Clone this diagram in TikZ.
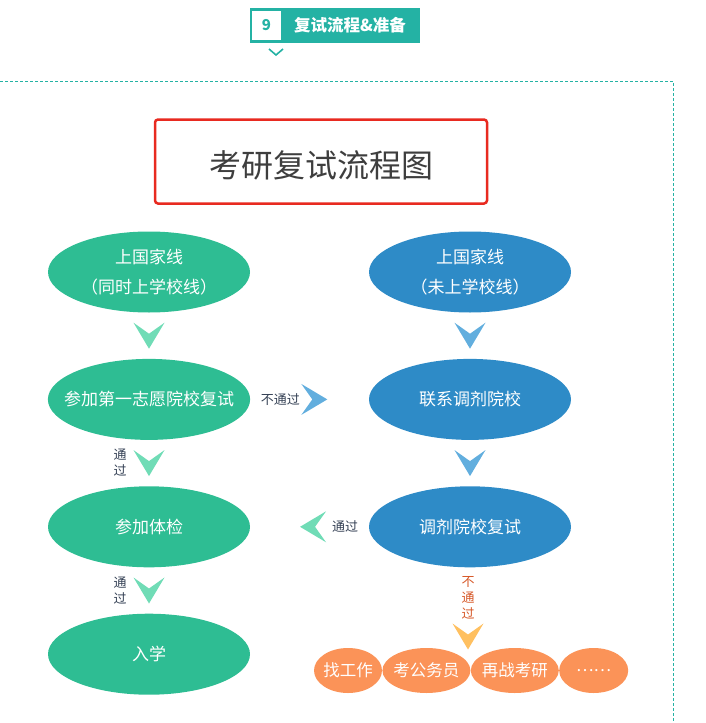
\documentclass[tikz,border=0pt]{standalone}
\usepackage{fontspec}
\setmainfont{Noto Sans CJK SC}
\usetikzlibrary{positioning,calc,shapes.geometric}
\definecolor{HeadTeal}{RGB}{36,178,164}
\definecolor{BorderRed}{RGB}{232,42,32}
\definecolor{TitleGray}{RGB}{62,62,62}
\definecolor{PassGreen}{RGB}{46,189,147}
\definecolor{ChevGreen}{RGB}{112,220,182}
\definecolor{TransferBlue}{RGB}{46,139,199}
\definecolor{ChevBlue}{RGB}{98,174,222}
\definecolor{FailOrange}{RGB}{251,147,88}
\definecolor{ChevYellow}{RGB}{255,192,96}
\definecolor{NoteRed}{RGB}{214,88,40}
\definecolor{NoteGray}{RGB}{52,64,84}
\tikzset{
  greenoval/.style={ellipse,fill=PassGreen,text=white,minimum width=202pt,
    minimum height=81pt,inner sep=0pt,align=center,font=\fontsize{17}{30}\selectfont},
  blueoval/.style={greenoval,fill=TransferBlue},
  orangeoval/.style={ellipse,fill=FailOrange,text=white,minimum height=45pt,
    inner sep=0pt,inner xsep=-4pt,font=\fontsize{16.5}{20}\selectfont},
  note/.style={text=NoteGray,font=\fontsize{13}{16}\selectfont,align=center,inner sep=0pt},
  chevron/.pic={\fill (-15.5,-13) -- (0,-2) -- (15.5,-13) -- (0,13) -- cycle;}
}

\begin{document}
\begin{tikzpicture}[x=1pt,y=-1pt]
  \useasboundingbox (0,0) rectangle (705,723);
  % header tag
  \node[fill=HeadTeal,minimum width=170pt,minimum height=35pt,inner sep=0pt] (tag) at (335,25.5) {};
  \node[fill=white,minimum size=29pt,inner sep=0pt,text=HeadTeal,font=\fontsize{15}{15}\selectfont\bfseries] (tagnum) at (266.5,25.5) {9};
  \node[text=white,font=\fontsize{16.5}{16}\selectfont\bfseries] (tagtext) at (350,25) {复试流程\&准备};
  \draw[HeadTeal,line width=1.6pt] (269,49) -- (276,55) -- (283,49);
  \draw[HeadTeal,line width=1pt,dash pattern=on 3pt off 2pt] (0,81) -- (673,81) -- (673,723);
  % title
  \node[draw=BorderRed,line width=2.5pt,rounded corners=3pt,minimum width=332pt,minimum height=84pt] (title) at (321,161.5) {};
  \node[text=TitleGray,font=\fontsize{32}{32}\selectfont] (titletext) at ($(title.center)+(0,4)$) {考研复试流程图};
  % left column
  \node[greenoval] (g1) at (149,272) {上国家线\\（同时上学校线）};
  \node[greenoval,below=46pt of g1,inner xsep=-13.5pt,font=\fontsize{17}{20}\selectfont] (g2) {参加第一志愿院校复试};
  \node[greenoval,below=46pt of g2] (g3) {参加体检};
  \node[greenoval,below=46pt of g3] (g4) {入学};
  % right column
  \node[blueoval] (b1) at (470,272) {上国家线\\（未上学校线）};
  \node[blueoval,below=46pt of b1] (b2) {联系调剂院校};
  \node[blueoval,below=46pt of b2] (b3) {调剂院校复试};
  % other choices
  \node[orangeoval,minimum width=68pt] (o1) at (348,670.5) {找工作};
  \node[orangeoval,minimum width=88pt,right=0pt of o1] (o2) {考公务员};
  \node[orangeoval,minimum width=88pt,right=0pt of o2] (o3) {再战考研};
  \node[orangeoval,minimum width=69pt,right=0pt of o3] (o4) {……};
  % chevrons
  \pic[ChevGreen] at ($(g1.south)!0.5!(g2.north)$) {chevron};
  \pic[ChevGreen] at ($(g2.south)!0.5!(g3.north)$) {chevron};
  \pic[ChevGreen] at ($(g3.south)!0.5!(g4.north)$) {chevron};
  \pic[ChevBlue] at ($(b1.south)!0.5!(b2.north)$) {chevron};
  \pic[ChevBlue] at ($(b2.south)!0.5!(b3.north)$) {chevron};
  \pic[ChevBlue,rotate=90] at ($(g2.east)!0.54!(b2.west)$) {chevron};
  \pic[ChevGreen,rotate=-90] at ($(g3.east)!0.53!(b3.west)$) {chevron};
  \pic[ChevYellow] at ($(b3.south)+(-2,69)$) {chevron};
  % labels
  \node[note] (pass1) at ($(g2.south)!0.5!(g3.north)+(-29,0)$) {通\\过};
  \node[note] (pass2) at ($(g3.south)!0.5!(g4.north)+(-29,0)$) {通\\过};
  \node[note] (fail1) at ($(g2.east)!0.54!(b2.west)+(-34,0)$) {不通过};
  \node[note] (pass3) at ($(g3.east)!0.53!(b3.west)+(32,0)$) {通过};
  \node[note,text=NoteRed] (fail2) at ($(b3.south)+(-2,30)$) {不\\通\\过};
\end{tikzpicture}
\end{document}
